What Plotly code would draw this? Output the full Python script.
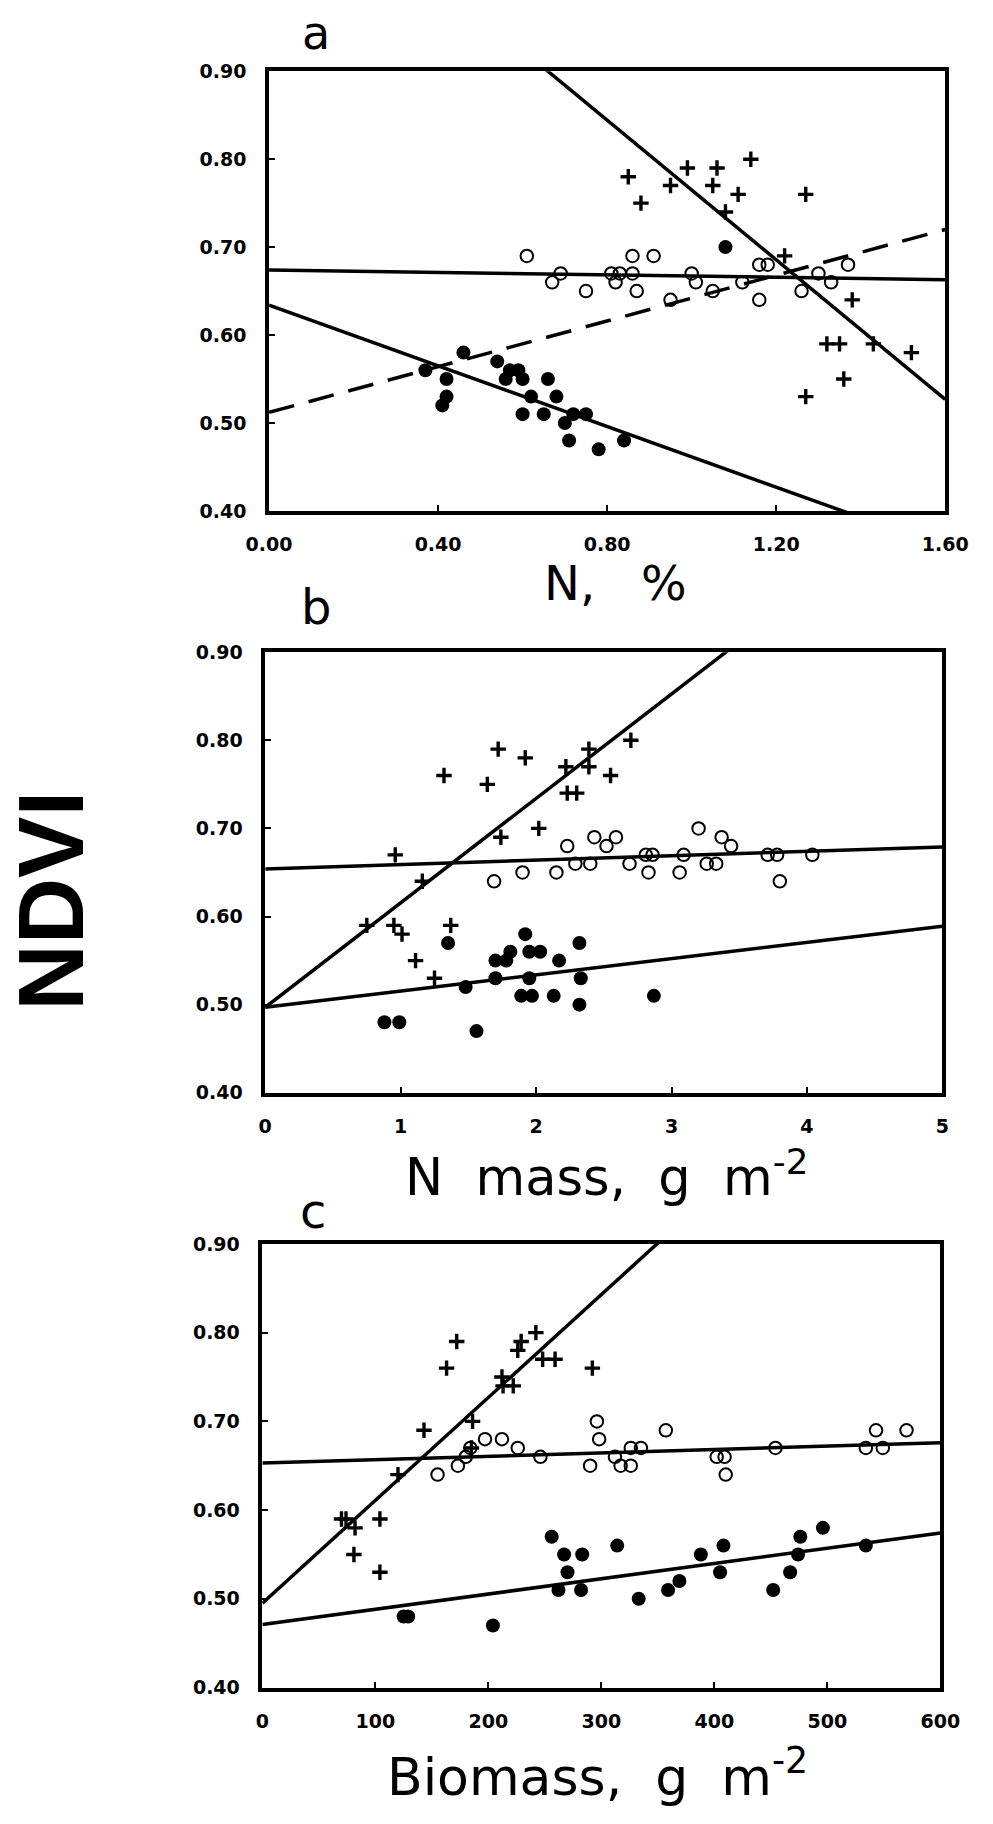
import plotly.graph_objects as go

# ---------------- data ----------------
# Panel a : NDVI vs N (%)
a_plus_x = [0.85, 0.88, 0.95, 0.99, 1.05, 1.06, 1.11, 1.08, 1.14, 1.27, 1.22, 1.38, 1.32, 1.35, 1.43, 1.52, 1.36, 1.27]
a_plus_y = [0.78, 0.75, 0.77, 0.79, 0.77, 0.79, 0.76, 0.74, 0.80, 0.76, 0.69, 0.64, 0.59, 0.59, 0.59, 0.58, 0.55, 0.53]
a_open_x = [0.61, 0.67, 0.69, 0.75, 0.81, 0.82, 0.83, 0.86, 0.86, 0.87, 0.91, 0.95, 1.00, 1.01, 1.05, 1.12, 1.16, 1.18, 1.16, 1.26, 1.30, 1.33, 1.37]
a_open_y = [0.69, 0.66, 0.67, 0.65, 0.67, 0.66, 0.67, 0.69, 0.67, 0.65, 0.69, 0.64, 0.67, 0.66, 0.65, 0.66, 0.68, 0.68, 0.64, 0.65, 0.67, 0.66, 0.68]
a_fill_x = [0.37, 0.42, 0.42, 0.41, 0.46, 0.54, 0.56, 0.57, 0.59, 0.60, 0.62, 0.60, 0.65, 0.66, 0.68, 0.70, 0.72, 0.75, 0.71, 0.78, 0.84, 1.08]
a_fill_y = [0.56, 0.55, 0.53, 0.52, 0.58, 0.57, 0.55, 0.56, 0.56, 0.55, 0.53, 0.51, 0.51, 0.55, 0.53, 0.50, 0.51, 0.51, 0.48, 0.47, 0.48, 0.70]

# Panel b : NDVI vs N mass (g m-2)
b_plus_x = [0.75, 0.95, 1.01, 0.96, 1.16, 1.11, 1.25, 1.37, 1.32, 1.64, 1.72, 1.74, 1.92, 2.02, 2.22, 2.23, 2.30, 2.39, 2.39, 2.55, 2.70]
b_plus_y = [0.59, 0.59, 0.58, 0.67, 0.64, 0.55, 0.53, 0.59, 0.76, 0.75, 0.79, 0.69, 0.78, 0.70, 0.77, 0.74, 0.74, 0.79, 0.77, 0.76, 0.80]
b_open_x = [1.69, 1.90, 2.15, 2.23, 2.29, 2.40, 2.43, 2.52, 2.59, 2.69, 2.81, 2.86, 2.83, 3.06, 3.09, 3.20, 3.26, 3.33, 3.37, 3.44, 3.71, 3.78, 3.80, 4.04]
b_open_y = [0.64, 0.65, 0.65, 0.68, 0.66, 0.66, 0.69, 0.68, 0.69, 0.66, 0.67, 0.67, 0.65, 0.65, 0.67, 0.70, 0.66, 0.66, 0.69, 0.68, 0.67, 0.67, 0.64, 0.67]
b_fill_x = [0.88, 0.99, 1.35, 1.48, 1.56, 1.70, 1.70, 1.78, 1.81, 1.92, 1.95, 1.95, 1.89, 1.97, 2.03, 2.13, 2.17, 2.32, 2.33, 2.32, 2.87]
b_fill_y = [0.48, 0.48, 0.57, 0.52, 0.47, 0.55, 0.53, 0.55, 0.56, 0.58, 0.56, 0.53, 0.51, 0.51, 0.56, 0.51, 0.55, 0.57, 0.53, 0.50, 0.51]

# Panel c : NDVI vs Biomass (g m-2)
c_plus_x = [70, 74, 82, 81, 104, 104, 120, 143, 163, 172, 185, 186, 212, 213, 222, 226, 229, 242, 248, 259, 292]
c_plus_y = [0.59, 0.59, 0.58, 0.55, 0.59, 0.53, 0.64, 0.69, 0.76, 0.79, 0.67, 0.70, 0.75, 0.74, 0.74, 0.78, 0.79, 0.80, 0.77, 0.77, 0.76]
c_open_x = [155, 173, 180, 184, 197, 212, 226, 246, 290, 296, 298, 312, 317, 326, 326, 335, 357, 402, 409, 410, 454, 534, 543, 549, 570]
c_open_y = [0.64, 0.65, 0.66, 0.67, 0.68, 0.68, 0.67, 0.66, 0.65, 0.70, 0.68, 0.66, 0.65, 0.67, 0.65, 0.67, 0.69, 0.66, 0.66, 0.64, 0.67, 0.67, 0.69, 0.67, 0.69]
c_fill_x = [125, 129, 204, 256, 262, 267, 270, 283, 282, 314, 333, 359, 369, 388, 405, 408, 452, 467, 474, 476, 496, 534]
c_fill_y = [0.48, 0.48, 0.47, 0.57, 0.51, 0.55, 0.53, 0.55, 0.51, 0.56, 0.50, 0.51, 0.52, 0.55, 0.53, 0.56, 0.51, 0.53, 0.55, 0.57, 0.58, 0.56]

# Regression lines (intercept, slope)
a_fits = {"plus": (1.162, -0.397), "open": (0.674, -0.0069), "fill": (0.634, -0.1725)}
a_dash_fit = (0.512, 0.130)
b_fits = {"plus": (0.497, 0.1185), "open": (0.654, 0.005), "fill": (0.497, 0.0184)}
c_fits = {"plus": (0.495, 0.00116), "open": (0.653, 0.0000383), "fill": (0.471, 0.000172)}

# Axis settings
y_ticks = [0.40, 0.50, 0.60, 0.70, 0.80, 0.90]
a_x_ticks = [0.0, 0.4, 0.8, 1.2, 1.6]
b_x_ticks = [0, 1, 2, 3, 4, 5]
c_x_ticks = [0, 100, 200, 300, 400, 500, 600]
a_xmax, b_xmax, c_xmax = 1.6, 5, 600

panel_letters = ["a", "b", "c"]
x_titles = ["N,&nbsp;&nbsp;&nbsp;%", "N&nbsp;&nbsp;mass,&nbsp;&nbsp;g&nbsp;&nbsp;m<sup>-2</sup>",
            "Biomass,&nbsp;&nbsp;g&nbsp;&nbsp;m<sup>-2</sup>"]
y_title = "NDVI"

# ---------------- figure ----------------
W, H = 993, 1824
fig = go.Figure()

def px(x):
    return x / W

def py(y):
    return 1 - y / H

panels = [
    dict(n="", px_=a_plus_x, py_=a_plus_y, ox=a_open_x, oy=a_open_y, fx=a_fill_x, fy=a_fill_y,
         fits=a_fits, xmax=a_xmax, ticks=a_x_ticks, fmt=".2f",
         dom_x=(258, 967), dom_y=(61, 506)),
    dict(n="2", px_=b_plus_x, py_=b_plus_y, ox=b_open_x, oy=b_open_y, fx=b_fill_x, fy=b_fill_y,
         fits=b_fits, xmax=b_xmax, ticks=b_x_ticks, fmt="d",
         dom_x=(254, 964), dom_y=(649, 1095)),
    dict(n="3", px_=c_plus_x, py_=c_plus_y, ox=c_open_x, oy=c_open_y, fx=c_fill_x, fy=c_fill_y,
         fits=c_fits, xmax=c_xmax, ticks=c_x_ticks, fmt="d",
         dom_x=(251, 962), dom_y=(1248, 1697)),
]

line_style = dict(color="black", width=3.5)
for i, p in enumerate(panels):
    xa, ya = "x" + p["n"], "y" + p["n"]
    # regression lines
    for key in ["plus", "open", "fill"]:
        b0, b1 = p["fits"][key]
        xs = [0, p["xmax"]]
        fig.add_trace(go.Scatter(x=xs, y=[b0 + b1 * v for v in xs], mode="lines",
                                 line=line_style, xaxis=xa, yaxis=ya, showlegend=False,
                                 hoverinfo="skip"))
    if i == 0:
        b0, b1 = a_dash_fit
        xs = [0, p["xmax"]]
        fig.add_trace(go.Scatter(x=xs, y=[b0 + b1 * v for v in xs], mode="lines",
                                 line=dict(color="black", width=3.5, dash="26px,15px"),
                                 xaxis=xa, yaxis=ya, showlegend=False, hoverinfo="skip"))
    # points
    fig.add_trace(go.Scatter(x=p["ox"], y=p["oy"], mode="markers",
                             marker=dict(symbol="circle-open", size=12.5, color="black",
                                         line=dict(width=2, color="black")),
                             xaxis=xa, yaxis=ya, showlegend=False))
    fig.add_trace(go.Scatter(x=p["fx"], y=p["fy"], mode="markers",
                             marker=dict(symbol="circle", size=14, color="black",
                                         line=dict(width=0)),
                             xaxis=xa, yaxis=ya, showlegend=False))
    fig.add_trace(go.Scatter(x=p["px_"], y=p["py_"], mode="markers",
                             marker=dict(symbol="cross-thin", size=11, color="black",
                                         line=dict(width=3.4, color="black")),
                             xaxis=xa, yaxis=ya, showlegend=False))

    x0, x1 = p["dom_x"]
    y0, y1 = p["dom_y"]
    common = dict(showgrid=False, zeroline=False, showline=True, mirror=True,
                  linecolor="black", linewidth=3.5, ticks="inside", ticklen=6,
                  tickwidth=2, tickcolor="black",
                  tickfont=dict(family="DejaVu Sans", size=19, color="black", weight="bold"))
    fig.update_layout(**{
        ("xaxis" + p["n"]): dict(domain=[px(x0), px(x1)], range=[0, p["xmax"]],
                                 tickvals=p["ticks"], tickformat=p["fmt"],
                                 anchor=ya, ticklabelstandoff=14, **common),
        ("yaxis" + p["n"]): dict(domain=[py(y1), py(y0)], range=[0.40, 0.90],
                                 tickvals=y_ticks, tickformat=".2f",
                                 anchor=xa, ticklabelstandoff=15, **common),
    })

annotations = [
    # panel letters
    dict(text=panel_letters[0], x=px(307), y=1.0, yanchor="top", yshift=7, font=dict(size=46)),
    dict(text=panel_letters[1], x=px(307), y=py(603), yanchor="middle", font=dict(size=48)),
    dict(text=panel_letters[2], x=px(304), y=py(1215), yanchor="middle", font=dict(size=48)),
    # axis titles
    dict(text=x_titles[0], x=px(621), y=py(579), yanchor="middle", font=dict(size=48)),
    dict(text=x_titles[1], x=px(612), y=py(1177), yanchor="middle", font=dict(size=51)),
    dict(text=x_titles[2], x=px(602), y=py(1784), yanchor="middle", font=dict(size=52)),
]
for an in annotations:
    an.update(xref="paper", yref="paper", showarrow=False, xanchor="center")
    an["font"].update(family="DejaVu Sans", color="black")
annotations.append(dict(text="<b>" + y_title + "</b>", x=px(29), y=py(901), xref="paper", yref="paper",
                        showarrow=False, textangle=-90, xanchor="center", yanchor="middle",
                        font=dict(family="Liberation Sans, Arial", size=92, color="black")))

fig.update_layout(width=W, height=H, margin=dict(l=0, r=0, t=0, b=0),
                  paper_bgcolor="white", plot_bgcolor="white",
                  annotations=annotations, showlegend=False)

fig.write_html("out.html")
